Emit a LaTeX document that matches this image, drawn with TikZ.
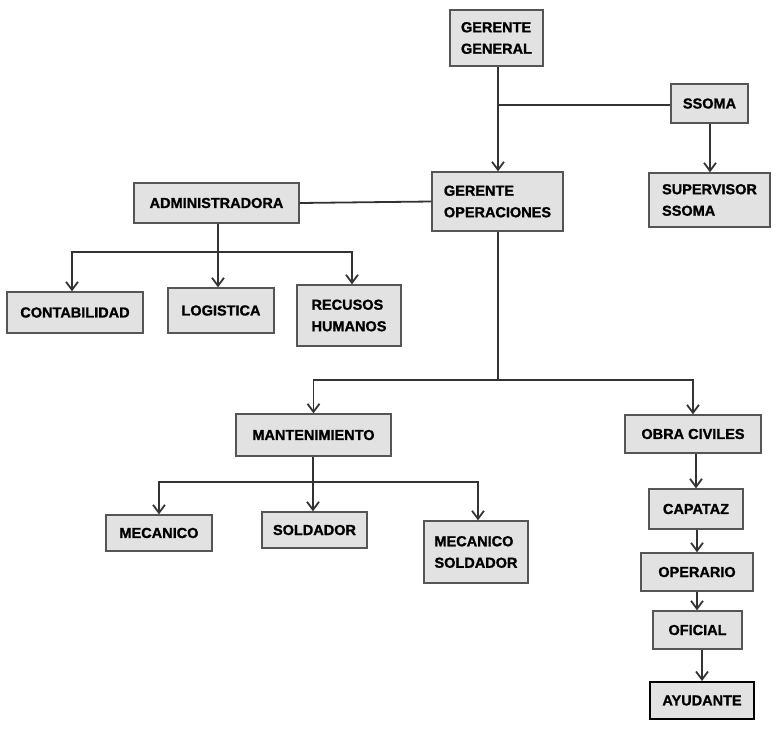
\documentclass[tikz,border=0pt]{standalone}
\usepackage{fontspec}
\setmainfont{Liberation Sans}[BoldFeatures={FakeBold=1.2}]
\usetikzlibrary{arrows.meta}
\definecolor{boxfill}{HTML}{E2E2E2}
\definecolor{boxline}{HTML}{555555}
\definecolor{wire}{HTML}{333333}
\tikzset{
  orgbox/.style={
    rectangle, draw=boxline, fill=boxfill, line width=1.4pt,
    font=\fontsize{14.5}{21.5}\selectfont\bfseries, align=left,
    inner sep=4pt
  },
  orgarrow/.style={
    -{Straight Barb[length=8pt, width=12pt]}, line width=1.8pt, color=wire
  },
  orgline/.style={line width=1.8pt, color=wire},
}
\begin{document}
\begin{tikzpicture}[x=1pt, y=-1pt]
  \useasboundingbox (0,0) rectangle (781,736);

  % Top
  \node[orgbox, minimum width=93pt, minimum height=56pt] (gerente) at (496.5,38) {GERENTE\\GENERAL};
  \node[orgbox, minimum width=77pt, minimum height=39pt] (ssoma) at (709.5,103.5) {SSOMA};
  \node[orgbox, minimum width=131pt, minimum height=59pt] (operaciones) at (497.5,201.5) {GERENTE\\OPERACIONES};
  \node[orgbox, minimum width=121pt, minimum height=54pt] (supervisor) at (709.5,200) {SUPERVISOR\\SSOMA};
  \coordinate (gbar) at (498,105);
  \draw[orgarrow] (gerente.south -| gbar) -- (operaciones.north -| gbar);
  \draw[orgline] (ssoma.west |- gbar) -- (gbar);
  \draw[orgarrow] ([xshift=0.5pt]ssoma.south) -- ([xshift=0.5pt]supervisor.north);

  % Administracion
  \node[orgbox, minimum width=165pt, minimum height=40pt] (admin) at (216.5,203) {ADMINISTRADORA};
  \node[orgbox, minimum width=136pt, minimum height=41pt] (conta) at (75,312.5) {CONTABILIDAD};
  \node[orgbox, minimum width=106pt, minimum height=45pt] (logistica) at (221,310.5) {LOGISTICA};
  \node[orgbox, minimum width=104pt, minimum height=61pt] (rrhh) at (349,315.5) {RECUSOS\\HUMANOS};
  \coordinate (abar) at (218,252);
  \draw[orgline] (admin.east) -- (operaciones.west);
  \draw[orgarrow] (admin.south -| abar) -- (logistica.north -| abar);
  \draw[orgarrow] (abar) -| ([xshift=-3pt]conta.north);
  \draw[orgarrow] (abar) -| ([xshift=3pt]rrhh.north);

  % Operaciones
  \node[orgbox, minimum width=155pt, minimum height=42pt] (mant) at (313.5,435) {MANTENIMIENTO};
  \node[orgbox, minimum width=136pt, minimum height=38pt] (obra) at (693,434) {OBRA CIVILES};
  \coordinate (obar) at (498,380);
  \draw[orgline] (operaciones.south -| obar) -- (obar);
  \draw[orgarrow] (obar) -| (mant.north);
  \draw[orgarrow] (obar) -| (obra.north);

  % Mantenimiento
  \node[orgbox, minimum width=106pt, minimum height=36pt] (mecanico) at (159,533) {MECANICO};
  \node[orgbox, minimum width=105pt, minimum height=36pt] (soldador) at (314.5,530) {SOLDADOR};
  \node[orgbox, minimum width=104pt, minimum height=62pt] (mecsold) at (476,552) {MECANICO\\SOLDADOR};
  \coordinate (mbar) at (313,482);
  \draw[orgarrow] (mant.south -| mbar) -- (soldador.north -| mbar);
  \draw[orgarrow] (mbar) -| (mecanico.north);
  \draw[orgarrow] (mbar) -| ([xshift=2pt]mecsold.north);

  % Obra civiles
  \node[orgbox, minimum width=94pt, minimum height=40pt] (capataz) at (696,509) {CAPATAZ};
  \node[orgbox, minimum width=112pt, minimum height=38pt] (operario) at (697,572) {OPERARIO};
  \node[orgbox, minimum width=89pt, minimum height=38pt] (oficial) at (697.5,630) {OFICIAL};
  \node[orgbox, draw=black, line width=2pt, minimum width=104pt, minimum height=37pt] (ayudante) at (702,700.5) {AYUDANTE};
  \draw[orgarrow] (capataz.north |- obra.south) -- (capataz.north);
  \draw[orgarrow] (operario.north |- capataz.south) -- (operario.north);
  \draw[orgarrow] (operario.north |- operario.south) -- (operario.north |- oficial.north);
  \draw[orgarrow] (ayudante.north |- oficial.south) -- (ayudante.north);
\end{tikzpicture}
\end{document}
